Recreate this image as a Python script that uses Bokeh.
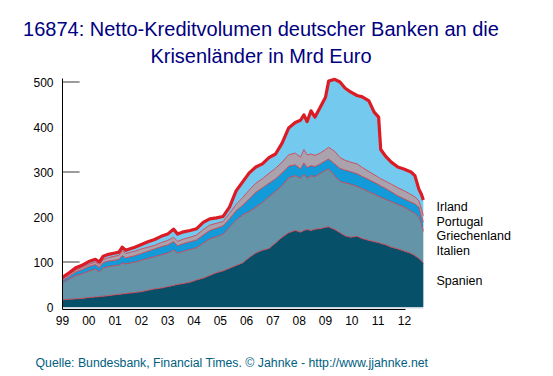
from bokeh.plotting import figure
from bokeh.models import ColumnDataSource, Label, FixedTicker, Range1d
from bokeh.transform import stack
from bokeh.embed import file_html
from bokeh.resources import INLINE

# ---- data (Mrd Euro) ----
years = [1999.00, 1999.25, 1999.50, 1999.75, 2000.00, 2000.25, 2000.40, 2000.55, 2000.75,
         2001.00, 2001.15, 2001.27, 2001.40, 2001.75, 2002.00, 2002.25, 2002.50, 2002.75,
         2003.00, 2003.22, 2003.38, 2003.60, 2003.85, 2004.10, 2004.35, 2004.60, 2004.85,
         2005.10, 2005.35, 2005.60, 2005.85, 2006.10, 2006.35, 2006.60, 2006.85, 2007.10,
         2007.35, 2007.60, 2007.85, 2008.05, 2008.18, 2008.30, 2008.45, 2008.60, 2008.80,
         2009.00, 2009.12, 2009.35, 2009.55, 2009.75, 2009.95, 2010.20, 2010.40, 2010.65,
         2010.85, 2011.02, 2011.10, 2011.30, 2011.50, 2011.75, 2012.00, 2012.25, 2012.40,
         2012.55, 2012.65, 2012.72]
spanien = [16, 17, 18, 19, 21, 22, 23, 24, 25, 27, 28, 29, 30, 32, 34, 37, 40, 42,
           45, 48, 50, 52, 55, 60, 64, 70, 76, 80, 86, 92, 98, 110, 120, 126, 130, 142,
           155, 165, 170, 166, 170, 172, 170, 173, 174, 177, 178, 172, 165, 158, 155, 157,
           152, 148, 145, 143, 141, 138, 133, 129, 124, 119, 114, 108, 103, 97]
italien = [37, 45, 52, 55, 59, 62, 55, 63, 65, 65, 65, 69, 66, 68, 70, 71, 72, 74,
           75, 79, 70, 72, 73, 72, 78, 82, 80, 82, 91, 101, 107, 102, 102, 106, 115, 115,
           115, 122, 122, 120, 125, 114, 122, 117, 123, 127, 129, 120, 114, 118, 118, 111,
           111, 108, 106, 103, 103, 101, 101, 99, 98, 94, 94, 92, 82, 71]
griechenland = [6, 6, 8, 9, 10, 10, 10, 12, 12, 12, 13, 16, 13, 14, 15, 16, 17, 18,
                18, 18, 16, 17, 17, 17, 18, 18, 19, 18, 19, 21, 21, 28, 33, 33, 30, 28,
                28, 26, 24, 21, 25, 24, 22, 22, 21, 21, 22, 26, 29, 28, 28, 28,
                27, 27, 26, 26, 25, 24, 22, 19, 18, 20, 21, 22, 15, 21]
portugal = [3, 4, 4, 5, 5, 6, 6, 7, 8, 9, 9, 11, 10, 10, 10, 9, 8, 9,
            10, 10, 10, 10, 10, 11, 12, 12, 11, 10, 12, 14, 17, 20, 20, 20, 22, 23,
            24, 25, 26, 26, 30, 28, 26, 25, 24, 25, 26, 28, 24, 22, 21, 22,
            20, 18, 17, 16, 16, 16, 17, 18, 18, 17, 16, 14, 18, 14]
irland = [4, 4, 5, 5, 6, 6, 6, 7, 7, 7, 7, 8, 7, 9, 10, 12, 13, 14,
          14, 18, 16, 16, 15, 14, 16, 14, 12, 11, 14, 30, 35, 38, 36, 33, 35, 32,
          42, 60, 68, 82, 77, 74, 96, 85, 102, 116, 147, 160, 168, 160, 156, 152,
          157, 157, 139, 134, 65, 55, 49, 46, 48, 50, 47, 26, 32, 35]

countries = ["Spanien", "Italien", "Griechenland", "Portugal", "Irland"]
year_ticks = list(range(1999, 2013))
year_labels = ["99", "00", "01", "02", "03", "04", "05", "06", "07", "08", "09", "10", "11", "12"]
y_ticks = [0, 100, 200, 300, 400, 500]
stub_levels = [100, 300, 500]

# ---- styles / layout (pixel geometry of the picture) ----
colors = ["#07506a", "#6394a8", "#129bd8", "#aaa2ad", "#74c9ee"]
FONT = "Liberation Sans"
W, H = 550, 374
PX_PER_YEAR = 26.3        # px per year
PX_PER_UNIT = 0.45        # px per Mrd Euro
X0_PX = 62                # pixel of 1999.0
Y0_PX = 306.5             # pixel of value 0


def xd(px):
    return 1999 + (px - X0_PX) / PX_PER_YEAR


def yd(py):
    return (Y0_PX - py) / PX_PER_UNIT


src = ColumnDataSource(dict(year=years, Spanien=spanien, Italien=italien,
                            Griechenland=griechenland, Portugal=portugal, Irland=irland))

p = figure(width=W, height=H, output_backend="svg", toolbar_location=None,
           x_range=Range1d(xd(0), xd(W)), y_range=Range1d(yd(H), yd(0)),
           min_border=0, min_border_left=0, min_border_right=0,
           min_border_top=0, min_border_bottom=0)
p.outline_line_color = None
p.xgrid.visible = False
p.ygrid.visible = False
p.background_fill_color = "white"
p.border_fill_color = "white"

# axes drawn inside the frame at fixed locations
axis_y = yd(308.5)
p.xaxis.fixed_location = axis_y
p.xaxis.bounds = (year_ticks[0], year_ticks[-1] + 0.05)
p.xaxis.ticker = FixedTicker(ticks=year_ticks)
p.xaxis.major_label_overrides = {t: l for t, l in zip(year_ticks, year_labels)}
p.xaxis.major_label_standoff = 7
p.yaxis.fixed_location = year_ticks[0]
p.yaxis.bounds = (axis_y, yd(78))
p.yaxis.ticker = FixedTicker(ticks=y_ticks)
p.yaxis.major_label_standoff = 9
for ax in (p.xaxis, p.yaxis):
    ax.axis_line_color = "black"
    ax.axis_line_width = 1
    ax.major_tick_line_color = None
    ax.minor_tick_line_color = None
    ax.major_tick_out = 0
    ax.major_tick_in = 0
    ax.minor_tick_out = 0
    ax.minor_tick_in = 0
    ax.major_label_text_font = FONT
    ax.major_label_text_font_size = "12px"
    ax.major_label_text_color = "black"

# short gray stubs at some levels
p.segment(x0=[year_ticks[0]] * len(stub_levels), x1=[year_ticks[0] + 0.65] * len(stub_levels),
          y0=stub_levels, y1=stub_levels, line_color="#7a7a7a", line_width=1.5)

# stacked areas
p.varea_stack(stackers=countries, x="year", color=colors, source=src)
for i in range(1, len(countries)):
    p.line(x="year", y=stack(*countries[:i]), source=src, line_color="#d0384a",
           line_width=1, line_alpha=0.85)
p.line(x="year", y=stack(*countries), source=src, line_color="#dc1c24",
       line_width=3.2, line_join="round")

# light strip under the areas
p.segment(x0=[year_ticks[0]], x1=[years[-1]], y0=[yd(307.2)], y1=[yd(307.2)],
          line_color="#c9d3db", line_width=1.5)

# series names at the right
name_py = {"Irland": 206, "Portugal": 221, "Griechenland": 235, "Italien": 250, "Spanien": 280}
for name in countries:
    p.add_layout(Label(x=xd(436), y=yd(name_py[name]), text=name, text_font=FONT,
                       text_font_size="12.5px", text_color="black", text_baseline="middle",
                       text_align="left"))

# title and footer
p.add_layout(Label(x=xd(260.5), y=yd(28.3),
                   text="16874: Netto-Kreditvolumen deutscher Banken an die",
                   text_font=FONT, text_font_size="20px", text_color="#000080",
                   text_align="center", text_baseline="alphabetic"))
p.add_layout(Label(x=xd(260.5), y=yd(55),
                   text="Krisenländer in Mrd Euro",
                   text_font=FONT, text_font_size="20px", text_color="#000080",
                   text_align="center", text_baseline="alphabetic"))
p.add_layout(Label(x=xd(35), y=yd(362.3),
                   text="Quelle: Bundesbank, Financial Times. © Jahnke - http://www.jjahnke.net",
                   text_font=FONT, text_font_size="12.3px", text_color="#006080",
                   text_align="left", text_baseline="alphabetic"))

open("out.html", "w").write(file_html(p, INLINE))
